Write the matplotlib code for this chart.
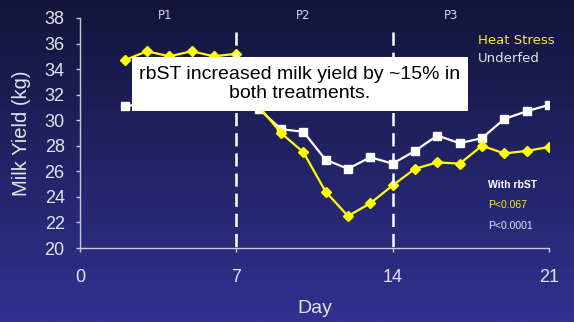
import numpy as np
import matplotlib
matplotlib.use("Agg")
import matplotlib.pyplot as plt
from matplotlib.patches import Rectangle

plt.rcParams['font.family'] = ['Liberation Sans', 'DejaVu Sans']
plt.rcParams['lines.scale_dashes'] = False

# Daily milk yield (kg), days 2-21
days = [2, 3, 4, 5, 6, 7, 8, 9, 10, 11, 12, 13, 14, 15, 16, 17, 18, 19, 20, 21]
heat_stress = [34.7, 35.4, 35.0, 35.4, 35.0, 35.2, 31.1, 29.0, 27.5, 24.4, 22.5, 23.5,
               24.9, 26.2, 26.7, 26.6, 28.0, 27.4, 27.6, 27.9]
underfed = [31.1, 31.3, 31.5, 31.4, 31.6, 31.4, 30.9, 29.3, 29.1, 26.9, 26.2, 27.1,
            26.6, 27.6, 28.8, 28.2, 28.6, 30.1, 30.7, 31.2]

x_ticks = [0, 7, 14, 21]
y_ticks = list(range(20, 39, 2))
period_breaks = [7, 14]
period_labels = ["P1", "P2", "P3"]
period_centers = [3.8, 10.0, 16.6]

W, H = 574, 322
fig = plt.figure(figsize=(W / 100, H / 100), dpi=100)

# vertical navy-to-blue gradient background
bg = fig.add_axes([0, 0, 1, 1], zorder=-10)
grad = np.linspace(0, 1, 256)[:, None]
top = np.array([20, 20, 58]) / 255
bot = np.array([49, 50, 145]) / 255
img = top[None, None, :] * (1 - grad[..., None]) + bot[None, None, :] * grad[..., None]
bg.imshow(img, aspect='auto', extent=[0, 1, 0, 1])
bg.axis('off')

ax = fig.add_axes([80 / W, 1 - 248 / H, (549 - 80) / W, (248 - 18) / H])
ax.set_facecolor('none')

axis_col = '#c8c8d8'
text_col = '#e4e4ee'
yellow = '#ffff00'

ax.plot(days, underfed, color='white', lw=1.6, marker='s', ms=6,
        markerfacecolor='white', markeredgecolor='white', zorder=3)
ax.plot(days, heat_stress, color=yellow, lw=1.6, marker='D', ms=5,
        markerfacecolor=yellow, markeredgecolor=yellow, zorder=3)

for xb in period_breaks:
    ax.plot([xb, xb], [36.9, 19.7], color='white', lw=1.8,
            linestyle=(0, (9.5, 5)), clip_on=False, zorder=4)

ax.set_xlim(0, 21)
ax.set_ylim(20, 38)
ax.set_xticks(x_ticks)
ax.set_yticks(y_ticks)
for s in ['top', 'right']:
    ax.spines[s].set_visible(False)
for s in ['left', 'bottom']:
    ax.spines[s].set_color(axis_col)
    ax.spines[s].set_linewidth(1.0)
ax.tick_params(axis='both', colors=axis_col, labelcolor=text_col, length=3,
               width=1.0, labelsize=13)
ax.tick_params(axis='y', pad=8)
ax.tick_params(axis='x', pad=12)

ax.set_ylabel("Milk Yield (kg)", fontsize=14.5, color=text_col, labelpad=10)
ax.set_xlabel("Day", fontsize=14, color=text_col, labelpad=10)

for lbl, xc in zip(period_labels, period_centers):
    ax.text(xc, 38.2, lbl, color='#d4d4e2', fontsize=8.5, ha='center',
            va='center', clip_on=False, family=['DejaVu Sans'])

ax.text(478 / W, 1 - 40 / H, "Heat Stress", transform=fig.transFigure,
        color='#f0f020', fontsize=9.5, ha='left', va='center', family=['DejaVu Sans'])
ax.text(478 / W, 1 - 58 / H, "Underfed", transform=fig.transFigure,
        color='#e4e4ee', fontsize=9.5, ha='left', va='center', family=['DejaVu Sans'])

ax.text(488 / W, 1 - 185 / H, "With rbST", transform=fig.transFigure,
        color='white', fontsize=7.5, fontweight='bold', ha='left', va='center')
ax.text(488 / W, 1 - 205 / H, "P<0.067", transform=fig.transFigure,
        color='#f0f020', fontsize=7.5, ha='left', va='center')
ax.text(488 / W, 1 - 226 / H, "P<0.0001", transform=fig.transFigure,
        color='#e4e4ee', fontsize=7.5, ha='left', va='center')

# annotation box drawn over the data lines
box = Rectangle((132 / W, 1 - 111 / H), 336 / W, 54 / H, transform=fig.transFigure,
                facecolor='white', edgecolor='none', zorder=20, clip_on=False)
ax.add_patch(box)
ax.text(300 / W, 1 - 84 / H, "rbST increased milk yield by ~15% in\nboth treatments.",
        transform=fig.transFigure, color='black', fontsize=14, ha='center',
        va='center', linespacing=1.15, zorder=21, clip_on=False)

fig.savefig("out.png", dpi=100)
